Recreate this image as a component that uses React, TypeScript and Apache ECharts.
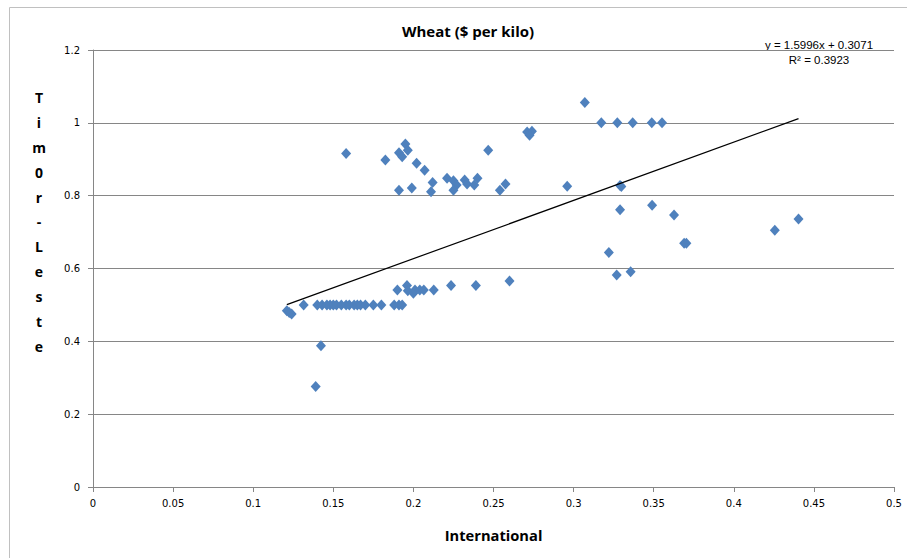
import { useEffect, useRef } from 'react'
import * as echarts from 'echarts'

const international = [
  0.121, 0.124, 0.1225, 0.1315, 0.139, 0.1423,
  0.14, 0.143, 0.146, 0.148, 0.15, 0.152, 0.155, 0.158, 0.16, 0.163, 0.165, 0.167, 0.17, 0.175, 0.18, 0.188, 0.191, 0.193,
  0.19, 0.196, 0.1965, 0.2, 0.201, 0.204, 0.2065, 0.2127, 0.2235, 0.239, 0.26,
  0.158, 0.1825, 0.195, 0.191, 0.1965, 0.193, 0.202, 0.207, 0.191, 0.199, 0.212, 0.211,
  0.221, 0.225, 0.227, 0.225, 0.232, 0.2335, 0.238, 0.24, 0.2467, 0.2575, 0.254,
  0.271, 0.274, 0.2725, 0.296, 0.307, 0.3173, 0.3273, 0.3369, 0.3488, 0.3552,
  0.329, 0.3298, 0.329, 0.349, 0.3627, 0.369, 0.3704, 0.322, 0.3269, 0.3356, 0.4256, 0.4404,
]

const timorLeste = [
  0.484, 0.475, 0.479, 0.5, 0.276, 0.388,
  0.5, 0.5, 0.5, 0.5, 0.5, 0.5, 0.5, 0.5, 0.5, 0.5, 0.5, 0.5, 0.5, 0.5, 0.5, 0.5, 0.5, 0.5,
  0.541, 0.553, 0.539, 0.532, 0.541, 0.541, 0.541, 0.541, 0.553, 0.553, 0.566,
  0.916, 0.898, 0.942, 0.918, 0.925, 0.907, 0.889, 0.87, 0.815, 0.821, 0.836, 0.811,
  0.848, 0.841, 0.829, 0.815, 0.843, 0.832, 0.829, 0.848, 0.925, 0.832, 0.815,
  0.975, 0.977, 0.966, 0.826, 1.056, 1.0, 1.0, 1.0, 1.0, 1.0,
  0.828, 0.825, 0.761, 0.774, 0.747, 0.669, 0.669, 0.644, 0.582, 0.591, 0.705, 0.736,
]

const slope = 1.5996
const intercept = 0.3071
const equationLabel = 'y = 1.5996x + 0.3071'
const rSquaredLabel = 'R² = 0.3923'
const yTitleLetters = ['T', 'i', 'm', '0', 'r', '-', 'L', 'e', 's', 't', 'e']

const tickFont = 'DejaVu Sans'
const boldFont = 'Open Sans'

export default function App() {
  const chartRef = useRef<HTMLDivElement | null>(null)

  useEffect(() => {
    if (!chartRef.current) {
      return
    }

    const chart = echarts.init(chartRef.current, undefined, { renderer: 'svg' })
    const xMin = Math.min(...international)
    const xMax = Math.max(...international)
    const trend = [
      [xMin, slope * xMin + intercept],
      [xMax, slope * xMax + intercept],
    ]

    chart.setOption({
      animation: false,
      backgroundColor: '#ffffff',
      title: {
        text: 'Wheat ($ per kilo)',
        left: 463,
        top: 18,
        textAlign: 'center',
        textStyle: { fontFamily: boldFont, fontSize: 15, fontWeight: 'bold', color: '#000' },
      },
      grid: { left: 93, right: 13, top: 50, bottom: 71 },
      xAxis: {
        type: 'value',
        min: 0,
        max: 0.5,
        interval: 0.05,
        name: 'International',
        nameLocation: 'middle',
        nameGap: 40,
        nameTextStyle: { fontFamily: boldFont, fontSize: 14.7, fontWeight: 'bold', color: '#000' },
        axisLine: { show: true, lineStyle: { color: '#868686' } },
        axisTick: { show: true, length: 5, lineStyle: { color: '#868686' } },
        axisLabel: { fontFamily: tickFont, fontSize: 10, color: '#000', margin: 11 },
        splitLine: { show: false },
      },
      yAxis: {
        type: 'value',
        min: 0,
        max: 1.2,
        interval: 0.2,
        axisLine: { show: true, lineStyle: { color: '#868686' } },
        axisTick: { show: true, length: 5, lineStyle: { color: '#868686' } },
        axisLabel: { fontFamily: tickFont, fontSize: 10, color: '#000', margin: 13 },
        splitLine: { show: true, lineStyle: { color: '#868686', width: 1 } },
      },
      graphic: [
        {
          type: 'rect',
          silent: true,
          shape: { x: 9.5, y: 7.5, width: 1200, height: 1200 },
          style: { fill: 'none', stroke: '#c0c0c0', lineWidth: 1 },
        },
        {
          type: 'text',
          x: 39,
          y: 85,
          style: {
            text: yTitleLetters.join('\n'),
            fontFamily: boldFont,
            fontSize: 14,
            fontWeight: 'bold',
            lineHeight: 24.9,
            textAlign: 'center',
            fill: '#000',
          },
        },
        {
          type: 'text',
          x: 819,
          y: 39,
          style: {
            text: equationLabel,
            fontFamily: 'Liberation Sans',
            fontSize: 11.5,
            textAlign: 'center',
            fill: '#000',
          },
        },
        {
          type: 'text',
          x: 819,
          y: 54,
          style: {
            text: rSquaredLabel,
            fontFamily: 'Liberation Sans',
            fontSize: 11.5,
            textAlign: 'center',
            fill: '#000',
          },
        },
      ],
      series: [
        {
          type: 'scatter',
          symbol: 'diamond',
          symbolSize: [10, 11],
          itemStyle: { color: '#4f81bd', opacity: 1 },
          data: international.map((x, i) => [x, timorLeste[i]]),
        },
        {
          type: 'line',
          symbol: 'none',
          lineStyle: { color: '#000', width: 1.2 },
          data: trend,
          z: 3,
        },
      ],
    })

    const resize = () => chart.resize()
    window.addEventListener('resize', resize)
    return () => {
      window.removeEventListener('resize', resize)
      chart.dispose()
    }
  }, [])

  return (
    <div
      ref={chartRef}
      style={{ position: 'fixed', left: 0, top: 0, width: 907, height: 558 }}
    />
  )
}
